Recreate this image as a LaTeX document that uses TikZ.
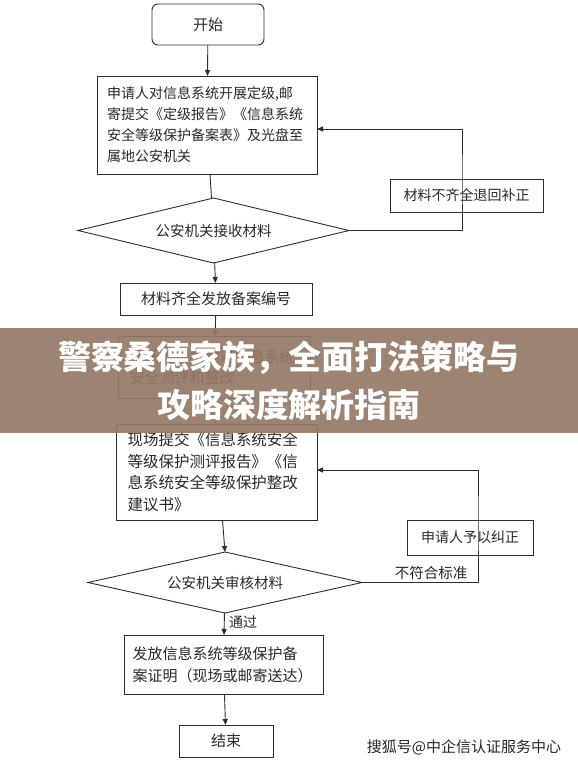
\documentclass[tikz,border=0pt]{standalone}
\usepackage{fontspec}
\setmainfont{Noto Sans CJK SC}
\usetikzlibrary{shapes.geometric,arrows.meta}
\definecolor{linegray}{RGB}{45,45,45}
\definecolor{txtgray}{RGB}{40,40,40}
\definecolor{bannerbrown}{RGB}{148,120,102}
\begin{document}
\begin{tikzpicture}[x=1pt,y=1pt,yscale=-1,inner sep=0pt,outer sep=0pt,
  box/.style={draw=linegray,line width=0.9pt,text=txtgray,
    font=\fontsize{14}{21}\selectfont},
  decide/.style={diamond,draw=linegray,line width=0.9pt,text=txtgray,
    font=\fontsize{14.5}{18}\selectfont},
  flow/.style={draw=linegray,line width=0.9pt},
  flowarrow/.style={flow,-{Triangle[length=6pt,width=5pt]}}]
\useasboundingbox (0,0) rectangle (578,764);

\node[box,rounded corners=6pt,minimum width=112,minimum height=41,
  font=\fontsize{15}{18}\selectfont] (start) at (208,24.5) {开始};

\node[box,minimum width=220,minimum height=98,text width=200,align=left]
  (apply) at (207,125) {申请人对信息系统开展定级,邮\\寄提交《定级报告》《信息系统\\安全等级保护备案表》及光盘至\\属地公安机关};

\node[decide,minimum width=271,minimum height=65,aspect=4.2]
  (check1) at (213.5,230.5) {公安机关接收材料};

\node[box,minimum width=153,minimum height=33] (back1) at (466.5,195.5) {材料不齐全退回补正};

\node[box,minimum width=192,minimum height=32,font=\fontsize{15}{18}\selectfont]
  (number) at (216,299) {材料齐全发放备案编号};

\node[box,minimum width=192,minimum height=62,text width=170,align=left,
  font=\fontsize{15}{21}\selectfont] (test) at (214.5,367.5) {委托测评机构对信息系统\\安全测评和整改};

\node[box,minimum width=201,minimum height=96,text width=178,align=left,
  font=\fontsize{15.5}{21.5}\selectfont] (submit) at (216.5,472)
  {现场提交《信息系统安全\\等级保护测评报告》《信\\息系统安全等级保护整改\\建议书》};

\node[box,minimum width=126,minimum height=35] (back2) at (470,537.5) {申请人予以纠正};

\node[decide,minimum width=274,minimum height=61,aspect=4.5]
  (check2) at (225,582.5) {公安机关审核材料};

\node[box,minimum width=199,minimum height=59,text width=182,align=left,
  font=\fontsize{15}{22}\selectfont] (cert) at (223.5,664.5)
  {发放信息系统等级保护备\\案证明（现场或邮寄送达）};

\node[box,minimum width=94,minimum height=32,font=\fontsize{15}{18}\selectfont]
  (end) at (226,741) {结束};

% connectors
\draw[flowarrow] (start) -- (apply);
\draw[flow] (apply) -- (check1);
\draw[flowarrow] (check1) -- (number);
\draw[flowarrow] (check1.east) -| ([xshift=-4.5]back1.north) |- ([yshift=4]apply.east);
\draw[flowarrow] (number) -- (test);
\draw[flowarrow] (test) -- (submit);
\draw[flowarrow] ([xshift=6]submit.south) -- (check2.north);
\draw[flowarrow] (check2.east) -| ([xshift=8]back2.north) |- ([yshift=-2]submit.east);
\node[text=txtgray,font=\fontsize{14.5}{18}\selectfont,anchor=south]
  (fail) at (431,580) {不符合标准};
\draw[flowarrow] (check2) -- (cert);
\node[text=txtgray,font=\fontsize{14}{18}\selectfont,anchor=west]
  (pass) at (229,622) {通过};
\draw[flowarrow] (cert) -- (end);

% banner
\fill[bannerbrown,fill opacity=0.92] (0,328) rectangle (578,433);
\node[text=white,font=\fontsize{33}{40}\bfseries] (title1) at (289,358) {警察桑德家族，全面打法策略与};
\node[text=white,font=\fontsize{33}{40}\bfseries] (title2) at (289,405) {攻略深度解析指南};

\node[text=black!85,font=\fontsize{15}{18}\selectfont] (mark) at (464,747) {搜狐号@中企信认证服务中心};
\end{tikzpicture}
\end{document}
